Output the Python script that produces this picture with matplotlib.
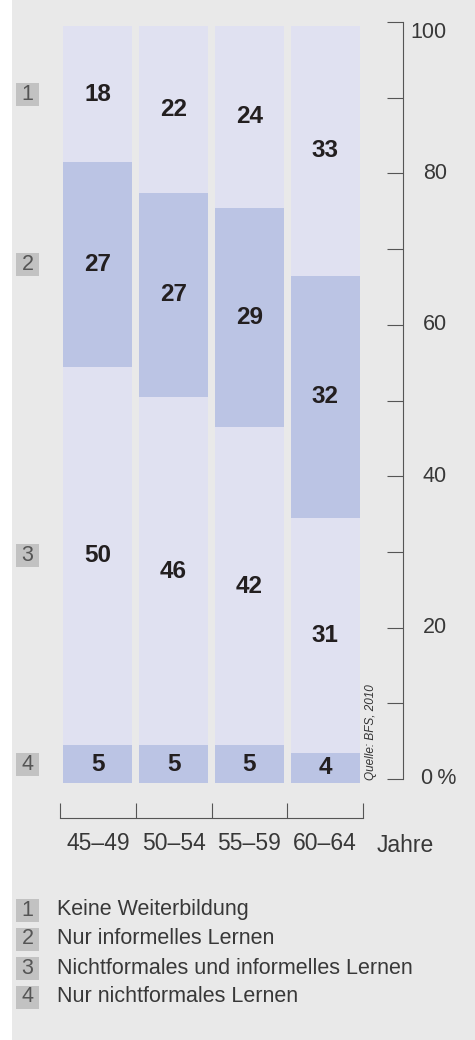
import matplotlib
matplotlib.use("Agg")
import matplotlib.pyplot as plt
from matplotlib.patches import Rectangle
import numpy as np

# ----------------------------------------
# Data
# ----------------------------------------
age_groups = ["45–49", "50–54", "55–59", "60–64"]
# segments from bottom to top: 4, 3, 2, 1
nur_nichtformal = [5, 5, 5, 4]
nichtformal_und_informell = [50, 46, 42, 31]
nur_informell = [27, 27, 29, 32]
keine_weiterbildung = [18, 22, 24, 33]
segment_ids = ["4", "3", "2", "1"]
legend_labels = [
    "Keine Weiterbildung",
    "Nur informelles Lernen",
    "Nichtformales und informelles Lernen",
    "Nur nichtformales Lernen",
]
axis_ticks = [0, 10, 20, 30, 40, 50, 60, 70, 80, 90, 100]
axis_labels = {20: "20", 40: "40", 60: "60", 80: "80", 100: "100"}
source = "Quelle: BFS, 2010"

# ----------------------------------------
# Style
# ----------------------------------------
W, H = 475, 1040
BG = "#e9e9e9"
LIGHT = "#e0e1f1"
MEDIUM = "#bbc4e4"
BOXGRAY = "#c2c2c2"
LINE = "#555555"
TXT = "#231f20"
LABEL = "#383838"
FONT = ["Liberation Sans", "DejaVu Sans"]
plt.rcParams["font.family"] = FONT


def fx(px):
    return px / W


def fy(py):
    return 1 - py / H


def number_box(px_center, py_center, text):
    # small gray square with a number, sizes in pixels
    fig.add_artist(Rectangle((fx(px_center - 11.5), fy(py_center + 11.5)), 23 / W, 23 / H,
                             transform=fig.transFigure, facecolor=BOXGRAY, edgecolor="none"))
    fig.text(fx(px_center), fy(py_center), text, ha="center", va="center",
             fontsize=15.5, color="#555555")


fig = plt.figure(figsize=(W / 100, H / 100), dpi=100, facecolor="white")

# gray panel behind everything
bg = fig.add_axes([fx(12), 0, 1 - fx(12), 1], zorder=-10)
bg.set_facecolor(BG)
bg.set_xticks([])
bg.set_yticks([])
for s in bg.spines.values():
    s.set_visible(False)

# ----------------------------------------
# Stacked bars
# ----------------------------------------
ax = fig.add_axes([fx(60), fy(783), fx(363) - fx(60), (783 - 26) / H])
ax.set_facecolor("none")
ax.set_xlim(-0.5, 3.5)
ax.set_ylim(0, 100)

series = [nur_nichtformal, nichtformal_und_informell, nur_informell, keine_weiterbildung]
colors = [MEDIUM, LIGHT, MEDIUM, LIGHT]
x = np.arange(len(age_groups))
bottom = np.zeros(len(age_groups))
first_bar_mids = []
for vals, col in zip(series, colors):
    vals = np.array(vals, dtype=float)
    ax.bar(x, vals, bottom=bottom, width=0.91, color=col, linewidth=0)
    mids = bottom + vals / 2
    for xi, m, v in zip(x, mids, vals):
        ax.text(xi, m, f"{int(v)}", ha="center", va="center", fontsize=17.5,
                fontweight="bold", color=TXT)
    first_bar_mids.append(mids[0])
    bottom += vals

# x axis as bracket below the bars
for s in ["top", "left", "right"]:
    ax.spines[s].set_visible(False)
ax.spines["bottom"].set_position(("outward", 25.2))
ax.spines["bottom"].set_color(LINE)
ax.spines["bottom"].set_linewidth(0.8)
ax.set_yticks([])
ax.set_xticks(np.arange(-0.5, 3.6, 1.0))
ax.set_xticklabels([])
ax.set_xticks(x, minor=True)
ax.set_xticklabels(age_groups, minor=True)
ax.tick_params(axis="x", which="major", direction="in", length=10.8, width=0.8, color=LINE)
ax.tick_params(axis="x", which="minor", length=0, pad=10, labelsize=16.5, labelcolor=LABEL)

fig.text(fx(377), fy(845), "Jahre", ha="left", va="center", fontsize=16.5, color=LABEL)

# segment markers on the left, level with the labels of the first bar
to_px = ax.transData
for sid, m in zip(segment_ids, first_bar_mids):
    py = H - to_px.transform((0, m))[1]
    number_box(27.5, py, sid)

# source
fig.text(fx(371), fy(780), source, rotation=90, ha="center", va="bottom",
         fontsize=8.5, style="italic", color="#333333")

# ----------------------------------------
# Right scale
# ----------------------------------------
ax2 = fig.add_axes([fx(403), fy(779), fx(447) - fx(403), (779 - 22) / H])
ax2.set_facecolor("none")
ax2.set_ylim(0, 100)
ax2.set_xlim(0, 1)
for s in ["top", "right", "bottom"]:
    ax2.spines[s].set_visible(False)
ax2.spines["left"].set_color(LINE)
ax2.spines["left"].set_linewidth(0.8)
ax2.set_xticks([])
ax2.set_yticks(axis_ticks)
ax2.tick_params(axis="y", direction="out", length=11.5, width=0.8, color=LINE, labelleft=False)
for v, lab in axis_labels.items():
    ax2.text(1, v, lab, ha="right", va="top" if v == 100 else "center",
             fontsize=15.5, color=LABEL)
ax2.text(18 / 44, 0, "0\u2009%", ha="left", va="center", fontsize=15.5, color=LABEL)

# ----------------------------------------
# Legend
# ----------------------------------------
legend_y = [910, 939, 968, 997]
for i, (lab, ly) in enumerate(zip(legend_labels, legend_y)):
    number_box(27.5, ly, str(i + 1))
    fig.text(fx(57), fy(ly), lab, ha="left", va="center", fontsize=15.5, color=LABEL)

fig.savefig("out.png", dpi=100, facecolor=fig.get_facecolor())
